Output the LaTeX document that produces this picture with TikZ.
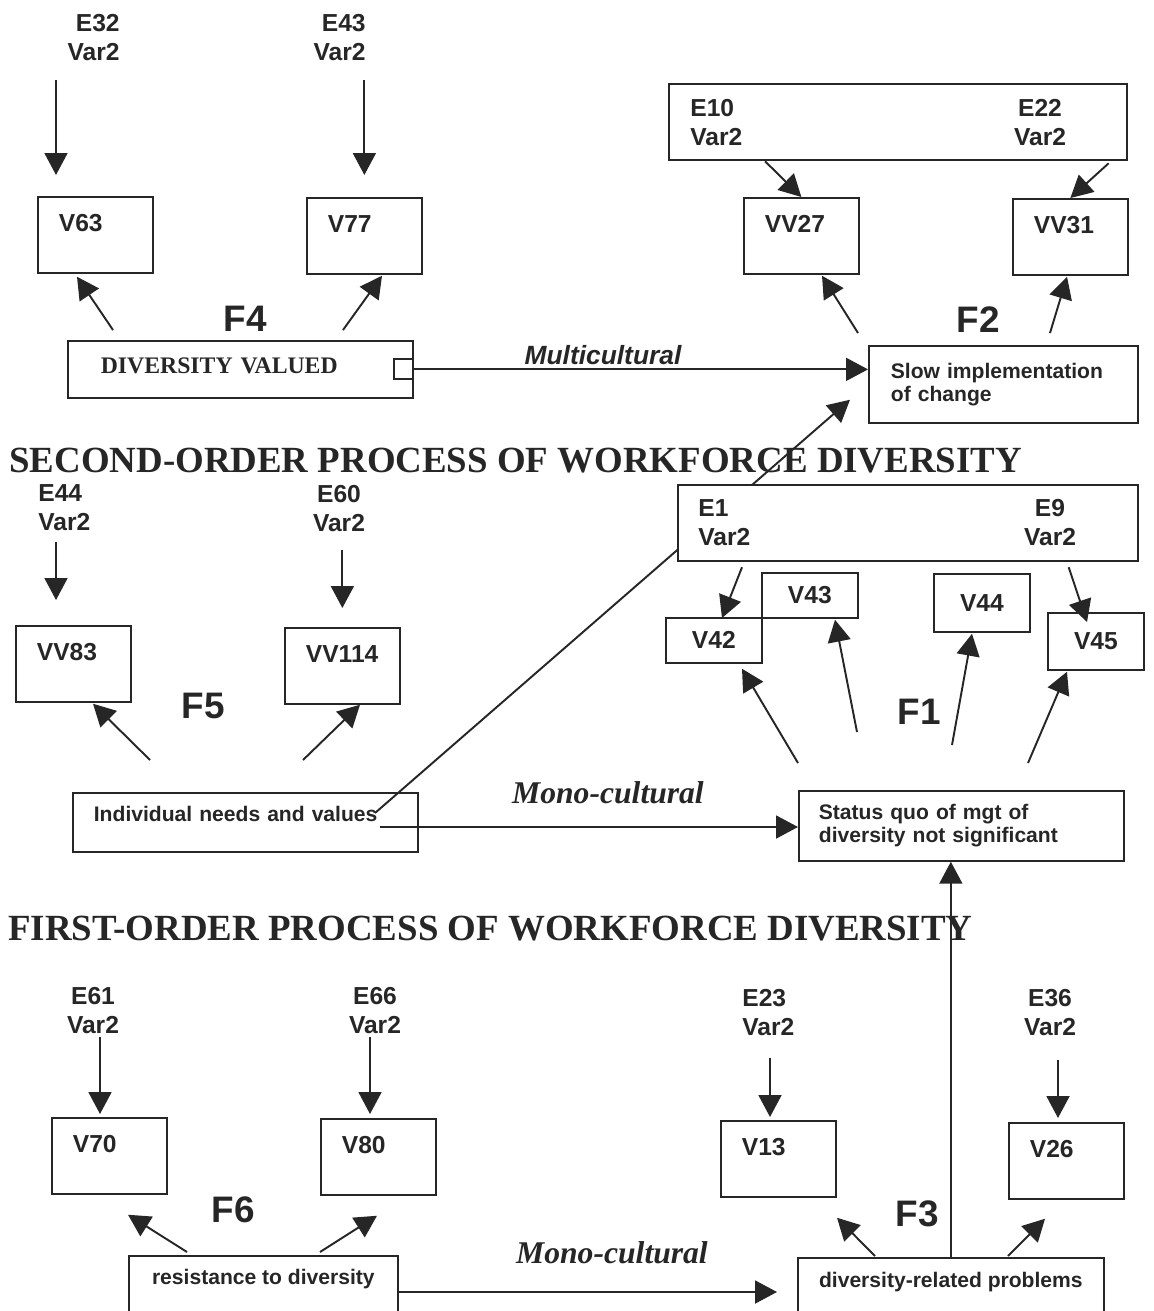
\documentclass[tikz,border=0pt]{standalone}
\usepackage{fontspec}
\setmainfont{Liberation Serif}
\setsansfont{Liberation Sans}
\usetikzlibrary{arrows.meta,calc}

\tikzset{
    arr/.style={line width=1.1pt, -{Triangle[length=0.44cm,width=0.46cm]}},
    vbox/.style={draw, line width=1pt, anchor=north west, inner ysep=0pt, inner xsep=0.42cm,
        text width=1.46cm, align=left, text height=0.7cm, text depth=0.82cm,
        font=\sffamily\bfseries\fontsize{14}{16}\selectfont},
    vsmall/.style={draw, line width=1pt, anchor=north west, inner sep=0pt,
        minimum width=1.92cm, minimum height=#1,
        font=\sffamily\bfseries\fontsize{14}{16}\selectfont},
    elab/.style={inner sep=0pt, font=\sffamily\bfseries\fontsize{14}{16.5}\selectfont},
    fac/.style={inner sep=0pt, font=\sffamily\bfseries\fontsize{21}{24}\selectfont},
    cbox/.style={draw, line width=1pt, anchor=north west,
        font=\sffamily\bfseries\fontsize{12}{13}\selectfont},
    ebox/.style={draw, line width=1pt, anchor=north west, minimum height=1.53cm},
    heading/.style={anchor=base west, inner sep=0pt,
        font=\rmfamily\bfseries\fontsize{21}{24}\selectfont},
    path/.style={anchor=base, inner sep=0pt},
}

\begin{document}
\begin{tikzpicture}[x=0.02cm, y=-0.02cm, color=black!85]
    \useasboundingbox (0,0) rectangle (1153,1311);

    \node[heading] (T2) at (9,472) {SECOND-ORDER PROCESS OF WORKFORCE DIVERSITY};
    \node[heading] (T1) at (8,940) {FIRST-ORDER PROCESS OF WORKFORCE DIVERSITY};

    % F4 and F2
    \node[elab, anchor=north east, align=right] (E32) at (120,14) {E32\\Var2};
    \node[elab, anchor=north east, align=right] (E43) at (366,14) {E43\\Var2};
    \node[vbox] (V63) at (37,196) {V63};
    \node[vbox] (V77) at (306,197) {V77};
    \node[cbox, font=\rmfamily\bfseries\fontsize{13.5}{16}\selectfont, text width=5.58cm,
        inner xsep=0.66cm, inner ysep=0pt, text height=0.66cm, text depth=0.48cm,
        align=left] (DV) at (67,340) {DIVERSITY VALUED};
    \node[draw, line width=1pt, anchor=east, inner sep=0pt, minimum width=0.38cm,
        minimum height=0.4cm] (DVport) at (DV.east) {};
    \node[fac] (F4) at (245,319) {F4};

    \node[ebox, minimum width=9.16cm] (EF2) at (668,83) {};
    \node[elab, anchor=north west, align=left] (E10) at (690,99) {E10\\Var2};
    \node[elab, anchor=north, align=center] (E22) at (1040,99) {E22\\Var2};
    \node[vbox] (VV27) at (743,197) {VV27};
    \node[vbox] (VV31) at (1012,198) {VV31};
    \node[cbox, text width=4.5cm, inner xsep=0.44cm, minimum height=1.54cm,
        align=left] (Slow) at (868,345) {Slow implementation\\of change};
    \node[fac] (F2) at (978,320) {F2};

    \draw[arr] ($(V63.north west)+(19,-116)$) -- ($(V63.north west)+(19,-21)$);
    \draw[arr] ($(V77.north)+(0,-117)$) -- ($(V77.north)+(0,-22)$);
    \draw[arr] ($(DV.north west)+(46,-10)$) -- ($(V63.south west)+(40,3)$);
    \draw[arr] ($(DV.north west)+(276,-10)$) -- ($(V77.south west)+(76,1)$);
    \draw[arr] (DVport.east) -- (DVport.east -| Slow.west);
    \node[path, font=\sffamily\bfseries\itshape\fontsize{15}{18}\selectfont] (multi) at (603,364) {Multicultural};

    \draw[arr] ($(EF2.south west)+(97,0)$) -- (VV27.north);
    \draw[arr] ($(EF2.south east)+(-19,2)$) -- (VV31.north);
    \draw[arr] ($(Slow.north west)+(-10,-12)$) -- ($(VV27.south west)+(79,1)$);
    \draw[arr] ($(Slow.north west)+(182,-12)$) -- ($(VV31.south west)+(55,1)$);

    % F5 and F1
    \node[elab, anchor=north west, align=left] (E44) at (38,484) {E44\\Var2};
    \node[elab, anchor=north, align=center] (E60) at (339,485) {E60\\Var2};
    \node[vbox] (VV83) at (15,625) {VV83};
    \node[vbox] (VV114) at (284,627) {VV114};
    \node[cbox, text width=6.06cm, inner xsep=0.42cm, inner ysep=0pt, text height=0.58cm,
        text depth=0.6cm, align=left] (Ind) at (72,792) {Individual needs and values};
    \node[fac] (F5) at (203,706) {F5};

    \node[cbox, text width=5.7cm, inner xsep=0.4cm, minimum height=1.4cm,
        align=left] (Status) at (798,790) {Status quo of mgt of\\diversity not significant};

    \coordinate (IndUp) at ($(Ind.north west)+(303,21)$);
    \coordinate (IndOut) at ($(Ind.north west)+(308,35)$);
    \coordinate (SlowIn) at ($(Slow.south west)+(-18,-24)$);
    \draw[arr] (IndUp) -- (SlowIn);
    \draw[arr] (IndOut) -- (IndOut -| Status.west);
    \node[path, font=\rmfamily\bfseries\itshape\fontsize{18}{21}\selectfont] (mono1) at (608,803) {Mono-cultural};

    \draw[arr] ($(VV83.north west)+(41,-83)$) -- ($(VV83.north west)+(41,-25)$);
    \draw[arr] ($(VV114.north)+(0,-77)$) -- ($(VV114.north)+(0,-19)$);
    \draw[arr] ($(Ind.north west)+(78,-32)$) -- ($(VV83.south west)+(78,1)$);
    \draw[arr] ($(Ind.north west)+(231,-32)$) -- ($(VV114.south west)+(76,0)$);

    \node[ebox, fill=white, minimum width=9.2cm] (EF1) at (677,484) {};
    \node[elab, anchor=north west, align=left] (E1) at (698,499) {E1\\Var2};
    \node[elab, anchor=north, align=center] (E9) at (1050,499) {E9\\Var2};
    \node[vsmall=0.9cm] (V42) at (665,617) {V42};
    \node[vsmall=0.9cm] (V43) at (761,572) {V43};
    \node[vsmall=1.16cm] (V44) at (933,573) {V44};
    \node[vsmall=1.14cm] (V45) at (1047,612) {V45};
    \node[fac] (F1) at (919,712) {F1};

    \draw[arr] ($(EF1.south west)+(65,5)$) -- ($(V42.north west)+(57,1)$);
    \draw[arr] ($(EF1.south east)+(-70,5)$) -- ($(V45.north west)+(40,10)$);
    \draw[arr] ($(Status.north west)+(0,-27)$) -- ($(V42.south west)+(77,5)$);
    \draw[arr] ($(Status.north west)+(59,-58)$) -- ($(V43.south west)+(74,1)$);
    \draw[arr] ($(Status.north west)+(154,-45)$) -- ($(V44.south west)+(39,1)$);
    \draw[arr] ($(Status.north west)+(230,-27)$) -- ($(V45.south west)+(20,1)$);

    % F6 and F3
    \node[elab, anchor=north, align=center] (E61) at (93,987) {E61\\Var2};
    \node[elab, anchor=north, align=center] (E66) at (375,987) {E66\\Var2};
    \node[elab, anchor=north west, align=left] (E23) at (742,989) {E23\\Var2};
    \node[elab, anchor=north, align=center] (E36) at (1050,989) {E36\\Var2};
    \node[vbox] (V70) at (51,1117) {V70};
    \node[vbox] (V80) at (320,1118) {V80};
    \node[vbox] (V13) at (720,1120) {V13};
    \node[vbox] (V26) at (1008,1122) {V26};
    \node[cbox, minimum width=5.38cm, inner ysep=0pt, text height=0.58cm,
        text depth=0.82cm] (RD) at (128,1255) {resistance to diversity};
    \node[cbox, minimum width=6.12cm, inner ysep=0pt, text height=0.6cm,
        text depth=0.76cm] (DRP) at (797,1257) {diversity-related problems};
    \node[fac] (F6) at (233,1210) {F6};
    \node[fac] (F3) at (917,1214) {F3};

    \draw[arr] ($(V70.north west)+(49,-80)$) -- ($(V70.north west)+(49,-3)$);
    \draw[arr] ($(V80.north west)+(50,-81)$) -- ($(V80.north west)+(50,-4)$);
    \draw[arr] ($(V13.north west)+(50,-62)$) -- ($(V13.north west)+(50,-3)$);
    \draw[arr] ($(V26.north west)+(50,-62)$) -- ($(V26.north west)+(50,-4)$);
    \draw[arr] ($(RD.north west)+(59,-3)$) -- ($(V70.south west)+(77,20)$);
    \draw[arr] ($(RD.north west)+(192,-3)$) -- ($(V80.south west)+(57,20)$);
    \draw[arr] ($(DRP.north west)+(78,-1)$) -- ($(V13.south west)+(117,20)$);
    \draw[arr] ($(DRP.north west)+(211,-1)$) -- ($(V26.south west)+(37,19)$);

    \draw[arr] (DRP.north) -- (DRP.north |- Status.south);
    \coordinate (RDOut) at ($(RD.north east)+(0,37)$);
    \draw[arr, shorten >=0.4cm] (RDOut) -- (RDOut -| DRP.west);
    \node[path, font=\rmfamily\bfseries\itshape\fontsize{18}{21}\selectfont] (mono2) at (612,1263) {Mono-cultural};
\end{tikzpicture}
\end{document}
